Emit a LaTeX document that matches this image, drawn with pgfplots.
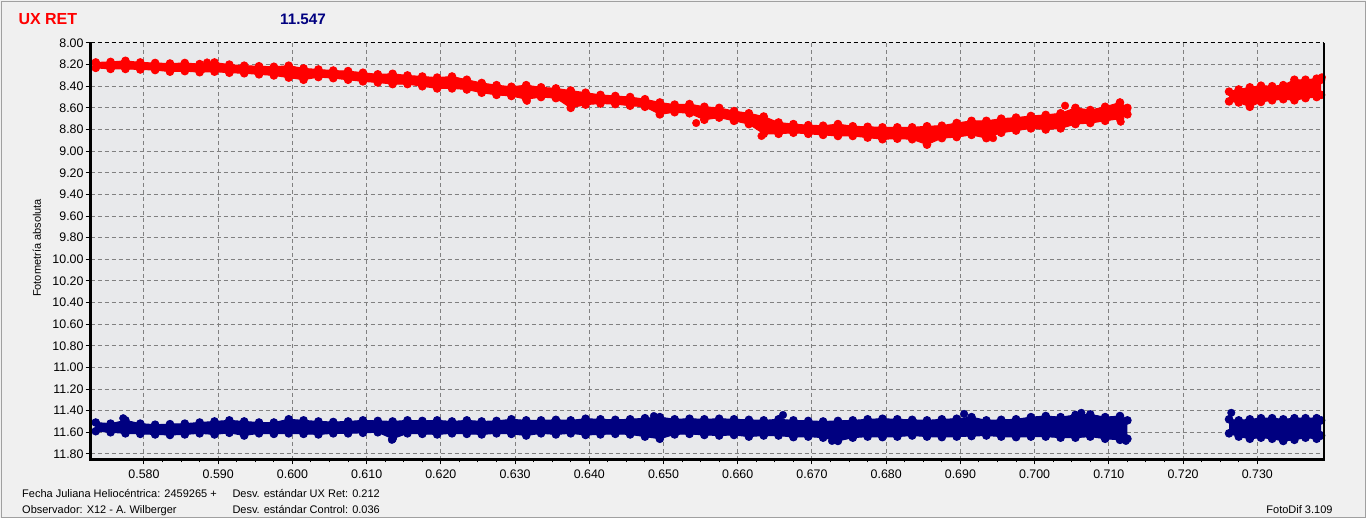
\documentclass[border=0pt]{standalone}
\usepackage{fontspec}
\setmainfont{Liberation Sans}
\usepackage{pgfplots}
\usepgfplotslibrary{fillbetween}
\pgfplotsset{compat=1.18}
\usepackage{pgfplotstable}
\definecolor{bgout}{RGB}{240,240,240}
\definecolor{bgplot}{RGB}{232,233,235}
\definecolor{framec}{RGB}{160,160,160}
\definecolor{gridc}{RGB}{128,128,128}
\definecolor{navyc}{RGB}{0,0,128}

\pgfplotstableread{
x hi lo
0.5735 8.18 8.23
0.5755 8.175 8.24
0.5775 8.165 8.24
0.5795 8.18 8.245
0.5815 8.185 8.25
0.5835 8.19 8.265
0.5855 8.185 8.26
0.5875 8.195 8.27
0.5895 8.18 8.265
0.5915 8.20 8.275
0.5935 8.21 8.28
0.5955 8.215 8.29
0.5975 8.22 8.30
0.5995 8.21 8.32
0.6015 8.235 8.34
0.6035 8.245 8.315
0.6055 8.255 8.325
0.6075 8.26 8.34
0.6095 8.275 8.355
0.6115 8.29 8.365
0.6135 8.285 8.38
0.6155 8.30 8.38
0.6175 8.31 8.40
0.6195 8.32 8.42
0.6215 8.31 8.42
0.6235 8.34 8.43
0.6255 8.37 8.46
0.6275 8.39 8.48
0.6295 8.405 8.49
0.6315 8.39 8.52
0.6335 8.41 8.50
0.6355 8.42 8.51
0.6375 8.44 8.60
0.6395 8.46 8.57
0.6415 8.48 8.56
0.6435 8.49 8.565
0.6455 8.50 8.58
0.6475 8.52 8.59
0.6495 8.55 8.66
0.6515 8.57 8.64
0.6535 8.565 8.65
0.6555 8.59 8.71
0.6575 8.60 8.69
0.6595 8.63 8.72
0.6615 8.65 8.75
0.6635 8.68 8.84
0.6655 8.735 8.84
0.6675 8.75 8.83
0.6695 8.76 8.84
0.6715 8.765 8.85
0.6735 8.75 8.86
0.6755 8.77 8.86
0.6775 8.775 8.875
0.6795 8.78 8.89
0.6815 8.78 8.885
0.6835 8.78 8.89
0.6855 8.77 8.94
0.6875 8.765 8.88
0.6895 8.74 8.87
0.6915 8.72 8.85
0.6935 8.72 8.88
0.6955 8.70 8.83
0.6975 8.69 8.81
0.6995 8.675 8.79
0.7015 8.665 8.80
0.7035 8.65 8.79
0.7055 8.60 8.75
0.7075 8.62 8.74
0.7095 8.59 8.72
0.7115 8.55 8.70
0.7125 8.60 8.66
}\redA

\pgfplotstableread{
x hi lo
0.7262 8.45 8.54
0.7275 8.43 8.55
0.7290 8.41 8.59
0.7305 8.395 8.545
0.7320 8.40 8.53
0.7335 8.39 8.52
0.7350 8.34 8.53
0.7365 8.34 8.51
0.7380 8.33 8.50
0.7386 8.34 8.48
}\redB

\pgfplotstableread{
x hi lo
0.5735 11.51 11.59
0.5755 11.52 11.60
0.5775 11.49 11.61
0.5795 11.52 11.615
0.5815 11.53 11.62
0.5835 11.525 11.625
0.5855 11.52 11.62
0.5875 11.51 11.61
0.5895 11.50 11.62
0.5915 11.49 11.605
0.5935 11.50 11.63
0.5955 11.51 11.61
0.5975 11.51 11.615
0.5995 11.48 11.61
0.6015 11.49 11.615
0.6035 11.50 11.62
0.6055 11.505 11.61
0.6075 11.50 11.61
0.6095 11.49 11.605
0.6115 11.495 11.60
0.6135 11.50 11.66
0.6155 11.49 11.61
0.6175 11.495 11.615
0.6195 11.49 11.62
0.6215 11.50 11.61
0.6235 11.49 11.615
0.6255 11.50 11.62
0.6275 11.495 11.61
0.6295 11.48 11.615
0.6315 11.49 11.63
0.6335 11.49 11.61
0.6355 11.485 11.62
0.6375 11.49 11.61
0.6395 11.475 11.625
0.6415 11.48 11.62
0.6435 11.485 11.615
0.6455 11.48 11.62
0.6475 11.47 11.64
0.6495 11.46 11.66
0.6515 11.48 11.62
0.6535 11.475 11.615
0.6555 11.48 11.625
0.6575 11.475 11.63
0.6595 11.48 11.625
0.6615 11.485 11.64
0.6635 11.49 11.63
0.6655 11.48 11.63
0.6675 11.49 11.645
0.6695 11.495 11.64
0.6715 11.50 11.65
0.6735 11.495 11.68
0.6755 11.49 11.65
0.6775 11.48 11.64
0.6795 11.475 11.645
0.6815 11.48 11.64
0.6835 11.485 11.63
0.6855 11.49 11.64
0.6875 11.48 11.645
0.6895 11.475 11.64
0.6915 11.46 11.635
0.6935 11.49 11.63
0.6955 11.485 11.64
0.6975 11.48 11.645
0.6995 11.46 11.64
0.7015 11.45 11.64
0.7035 11.46 11.65
0.7055 11.44 11.65
0.7075 11.435 11.64
0.7095 11.46 11.66
0.7115 11.45 11.67
0.7125 11.49 11.66
}\blueA

\pgfplotstableread{
x hi lo
0.7262 11.48 11.61
0.7275 11.49 11.64
0.7290 11.48 11.66
0.7305 11.47 11.65
0.7320 11.47 11.66
0.7335 11.48 11.68
0.7350 11.47 11.67
0.7365 11.47 11.65
0.7380 11.47 11.66
0.7386 11.49 11.63
}\blueB

\pagecolor{bgout}
\begin{document}
\begin{tikzpicture}[x=1pt,y=1pt]
\begin{axis}[
  name=ax,
  at={(90.7pt,62.7pt)}, anchor=south west,
  width=1233.6pt, height=416.3pt, scale only axis,
  xmin=0.57282, xmax=0.73903, ymin=8, ymax=11.85, y dir=reverse,
  axis background/.style={fill=bgplot},
  axis line style={draw=none},
  xtick={0.58,0.59,0.60,0.61,0.62,0.63,0.64,0.65,0.66,0.67,0.68,0.69,0.70,0.71,0.72,0.73},
  xticklabels={0.580,0.590,0.600,0.610,0.620,0.630,0.640,0.650,0.660,0.670,0.680,0.690,0.700,0.710,0.720,0.730},
  ytick={8,8.2,8.4,8.6,8.8,9,9.2,9.4,9.6,9.8,10,10.2,10.4,10.6,10.8,11,11.2,11.4,11.6,11.8},
  yticklabels={8.00,8.20,8.40,8.60,8.80,9.00,9.20,9.40,9.60,9.80,10.00,10.20,10.40,10.60,10.80,11.00,11.20,11.40,11.60,11.80},
  minor x tick num=3,
  tick align=outside, xtick pos=bottom, ytick pos=left,
  major tick length=5pt, minor tick length=3pt,
  tick style={black, line width=1pt},
  grid=major,
  major grid style={gridc, line width=1pt, dash pattern=on 4pt off 3pt},
  ticklabel style={font=\fontsize{12.4}{14}\selectfont, inner sep=0pt},
  xticklabel style={yshift=-5.5pt},
  yticklabel style={xshift=-2pt},
]
% red series
\addplot[name path=rha, red, line width=1pt, mark=*, mark size=3.8pt, mark options={draw=red, fill=red}] table[x=x, y=hi]{\redA};
\addplot[name path=rla, red, line width=1pt, mark=*, mark size=3.8pt, mark options={draw=red, fill=red}] table[x=x, y=lo]{\redA};
\addplot[red] fill between[of=rha and rla];
\addplot[name path=rhb, red, line width=1pt, mark=*, mark size=3.8pt, mark options={draw=red, fill=red}] table[x=x, y=hi]{\redB};
\addplot[name path=rlb, red, line width=1pt, mark=*, mark size=3.8pt, mark options={draw=red, fill=red}] table[x=x, y=lo]{\redB};
\addplot[red] fill between[of=rhb and rlb];
\addplot[only marks, mark=*, mark size=3.8pt, red, mark options={draw=red, fill=red}] coordinates {(0.7116,8.728) (0.7387,8.317) (0.5885,8.18) (0.6316,8.535) (0.6544,8.74) (0.6944,8.88) (0.7041,8.58) (0.6632,8.86)};
% blue series
\addplot[name path=bha, navyc, line width=1pt, mark=*, mark size=3.8pt, mark options={draw=navyc, fill=navyc}] table[x=x, y=hi]{\blueA};
\addplot[name path=bla, navyc, line width=1pt, mark=*, mark size=3.8pt, mark options={draw=navyc, fill=navyc}] table[x=x, y=lo]{\blueA};
\addplot[navyc] fill between[of=bha and bla];
\addplot[name path=bhb, navyc, line width=1pt, mark=*, mark size=3.8pt, mark options={draw=navyc, fill=navyc}] table[x=x, y=hi]{\blueB};
\addplot[name path=blb, navyc, line width=1pt, mark=*, mark size=3.8pt, mark options={draw=navyc, fill=navyc}] table[x=x, y=lo]{\blueB};
\addplot[navyc] fill between[of=bhb and blb];
\addplot[only marks, mark=*, mark size=3.8pt, navyc, mark options={draw=navyc, fill=navyc}] coordinates {(0.7265,11.42) (0.6661,11.44) (0.6905,11.43) (0.7063,11.42) (0.5772,11.47) (0.6134,11.67) (0.6487,11.45) (0.6727,11.68) (0.7123,11.68) (0.7335,11.68)};
\end{axis}
% outer strips and frame
\fill[white] (1366,0) rectangle (1369,522);
\fill[white] (0,0) rectangle (1369,3.5);
\draw[framec, line width=1pt] (1.5,4.5) rectangle (1365.5,520.5);
% frame lines
\draw[black, line width=1pt, dash pattern=on 4pt off 3pt] (90.7,479) -- (1324.3,479);
\draw[black, line width=3pt] (90.7,479) -- (90.7,61.2);
\draw[black, line width=3pt] (89.2,62.4) -- (1325.3,62.4);
\draw[black, line width=2pt] (1324.3,479) -- (1324.3,61);
% texts
\node[anchor=base west, inner sep=0pt, text=red, font=\fontsize{16}{18}\selectfont\bfseries] at (18.3,497) {UX RET};
\node[anchor=base west, inner sep=0pt, text=navyc, font=\fontsize{15.2}{18}\selectfont\bfseries] at (280,497) {11.547};
\node[rotate=90, inner sep=0pt, font=\fontsize{11}{13}\selectfont] at (37,274) {Fotometría absoluta};
\node[anchor=base west, inner sep=0pt, font=\fontsize{11}{13}\selectfont] at (22,24.7) {Fecha Juliana Heliocéntrica: 2459265 +};
\node[anchor=base west, inner sep=0pt, font=\fontsize{11}{13}\selectfont] at (22,8.7) {Observador: X12 - A. Wilberger};
\node[anchor=base west, inner sep=0pt, font=\fontsize{11}{13}\selectfont] at (232.3,24.7) {Desv. estándar UX Ret: 0.212};
\node[anchor=base west, inner sep=0pt, font=\fontsize{11}{13}\selectfont] at (232.3,8.7) {Desv. estándar Control: 0.036};
\node[anchor=base east, inner sep=0pt, font=\fontsize{11}{13}\selectfont] at (1332.7,8.7) {FotoDif 3.109};
\pgfresetboundingbox
\useasboundingbox (0,0) rectangle (1369,522);
\end{tikzpicture}
\end{document}
